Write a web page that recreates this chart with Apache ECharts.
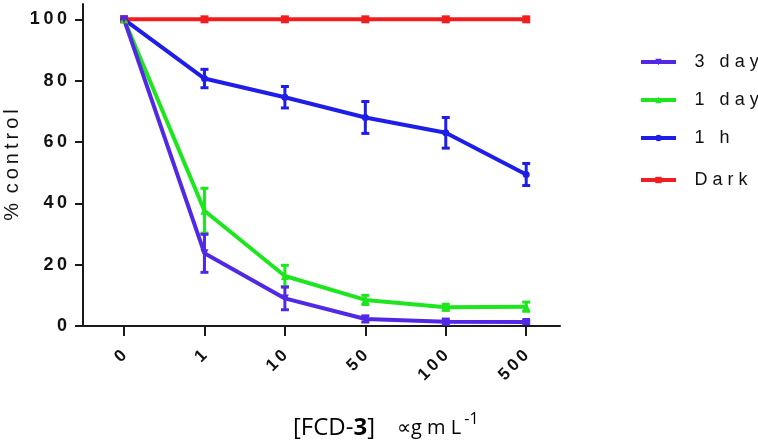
<!DOCTYPE html>
<html>
<head>
<meta charset="utf-8">
<script src="https://cdn.jsdelivr.net/npm/echarts@6/dist/echarts.min.js"></script>
<style>html,body{margin:0;padding:0;background:#fff}#c{width:758px;height:444px}</style>
</head>
<body>
<div id="c"></div>
<script>
const categories = ['0', '1', '10', '50', '100', '500'];
const yTicks = [0, 20, 40, 60, 80, 100];
const seriesNames = ['3 day', '1 day', '1 h', 'Dark'];
const day3 = [100, 23.7, 9.0, 2.3, 1.4, 1.3];
const day3Err = [0, 6.2, 3.7, 1.0, 0.8, 0.5];
const day1 = [100, 37.6, 16.3, 8.5, 6.1, 6.3];
const day1Err = [0, 7.3, 3.5, 1.5, 1.0, 1.5];
const hour1 = [100, 80.7, 74.6, 68.0, 63.0, 49.4];
const hour1Err = [0, 3.0, 3.5, 5.2, 5.0, 3.6];
const dark = [100, 100, 100, 100, 100, 100];
const darkErr = [0, 0, 0, 0, 0, 0];

const colors = { '3 day': '#5028e6', '1 day': '#1ee61e', '1 h': '#1e1ee8', 'Dark': '#f01e1e' };
const symbols = { '3 day': 'path://M0,0 L10,0 L5,9 Z', '1 day': 'triangle', '1 h': 'circle', 'Dark': 'rect' };
const symbolSizes = { '3 day': 8, '1 day': 8, '1 h': 7, 'Dark': 8 };

const TS = '\u2009';
function spaced(s, sep) { return s.split('').join(sep === undefined ? ' ' : sep); }

const chart = echarts.init(document.getElementById('c'), null, { renderer: 'canvas' });

function lineSeries(name, vals) {
  return {
    name: name, type: 'line', data: vals.map((v, i) => [i, v]),
    symbol: symbols[name], symbolSize: symbolSizes[name],
    lineStyle: { width: 4, color: colors[name] },
    itemStyle: { color: colors[name] },
    z: 3
  };
}
function errSeries(name, vals, errs) {
  return {
    name: name, type: 'custom', z: 4,
    data: vals.map((v, i) => [i, v, errs[i]]),
    renderItem: function (params, api) {
      const x = api.value(0), v = api.value(1), e = api.value(2);
      if (!e) return null;
      const lo = api.coord([x, v - e]);
      const hi = api.coord([x, v + e]);
      const w = 4;
      const st = { stroke: colors[name], lineWidth: 3 };
      return {
        type: 'group', children: [
          { type: 'line', shape: { x1: lo[0], y1: lo[1], x2: hi[0], y2: hi[1] }, style: st },
          { type: 'line', shape: { x1: lo[0] - w, y1: lo[1], x2: lo[0] + w, y2: lo[1] }, style: st },
          { type: 'line', shape: { x1: hi[0] - w, y1: hi[1], x2: hi[0] + w, y2: hi[1] }, style: st }
        ]
      };
    }
  };
}

const legendText = { fontFamily: 'Liberation Sans', fontSize: 18, color: '#111' };

chart.setOption({
  animation: false,
  grid: { left: 83, right: 198, top: 4, bottom: 118, containLabel: false, outerBoundsMode: 'none' },
  legend: [
    {
      data: ['3 day', '1 day', '1 h'], orient: 'vertical', left: 639, top: 53, padding: 0,
      itemWidth: 35, itemHeight: 8, itemGap: 20,
      lineStyle: { width: 4 },
      textStyle: legendText,
      formatter: n => '  ' + TS + (n === '1 h' ? '1   h' : spaced(n))
    },
    {
      data: ['Dark'], orient: 'vertical', left: 639, top: 171, padding: 0,
      itemWidth: 35, itemHeight: 8,
      lineStyle: { width: 4 },
      textStyle: legendText,
      formatter: n => '  ' + TS + spaced(n)
    }
  ],
  xAxis: {
    type: 'value', min: -0.51, max: 5.42,
    splitLine: { show: false },
    axisLine: { show: true, onZero: false, lineStyle: { color: '#1a1a1a', width: 2 } },
    axisTick: { show: true, length: 10, lineStyle: { color: '#1a1a1a', width: 2 }, customValues: categories.map((c, i) => i) },
    axisLabel: {
      customValues: categories.map((c, i) => i),
      rotate: 45, margin: 27,
      fontFamily: 'Liberation Sans', fontWeight: 'bold', fontSize: 17, color: '#111',
      formatter: v => spaced(categories[Math.round(v)], TS)
    }
  },
  yAxis: {
    type: 'value', min: 0, max: 105,
    splitLine: { show: false },
    axisLine: { show: true, onZero: false, lineStyle: { color: '#1a1a1a', width: 2 } },
    axisTick: { show: true, length: 8, lineStyle: { color: '#1a1a1a', width: 2 }, customValues: yTicks },
    axisLabel: {
      customValues: yTicks, margin: 16,
      fontFamily: 'Liberation Sans', fontWeight: 'bold', fontSize: 18, color: '#111',
      formatter: v => spaced(String(v), TS)
    },
    name: '%' + TS + ' ' + spaced('control', TS), nameLocation: 'middle', nameGap: 61,
    nameMoveOverlap: false,
    nameTextStyle: { fontFamily: 'Liberation Sans', fontSize: 20, color: '#111' }
  },
  graphic: [
    {
      type: 'text', left: 293, top: 411,
      style: {
        text: '{a|[FCD-}{b|3}{a|]}{s| }{c|∝g m L}{sup|-1}',
        rich: {
          a: { fontFamily: 'Open Sans', fontSize: 24, color: '#111', lineHeight: 30 },
          b: { fontFamily: 'Open Sans', fontSize: 24, fontWeight: 'bold', color: '#111', lineHeight: 30 },
          s: { fontSize: 20, width: 22 },
          c: { fontFamily: 'Open Sans', fontSize: 20, color: '#111', lineHeight: 30 },
          sup: { fontFamily: 'Open Sans', fontSize: 16, color: '#111', padding: [0, 0, 18, 3] }
        }
      }
    }
  ],
  series: [
    lineSeries('Dark', dark),
    lineSeries('1 h', hour1),
    lineSeries('1 day', day1),
    lineSeries('3 day', day3),
    errSeries('Dark', dark, darkErr),
    errSeries('1 h', hour1, hour1Err),
    errSeries('1 day', day1, day1Err),
    errSeries('3 day', day3, day3Err)
  ]
});
</script>
</body>
</html>
